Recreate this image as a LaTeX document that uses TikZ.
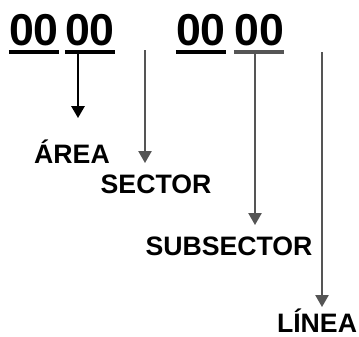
\documentclass[tikz,border=0pt]{standalone}
\usepackage{fontspec}
\setmainfont{Liberation Sans}
\usetikzlibrary{arrows.meta}
\definecolor{arrgray}{RGB}{85,85,85}

\begin{document}
\begin{tikzpicture}[x=0.75pt,y=-0.75pt,
    digits/.style={font=\fontsize{33.5}{33.5}\selectfont\bfseries,inner sep=0pt,anchor=base},
    lbl/.style={font=\fontsize{20}{20}\selectfont\bfseries,inner sep=0pt,anchor=base},
    uline/.style={line width=3pt},
    arr/.style={-{Triangle[width=10pt,length=9pt]}}]
        \useasboundingbox (0,0) rectangle (359,336);
        % the code digits
        \node[digits] (d1) at (34,45) {00};
        \node[digits] (d2) at (90,45) {00};
        \node[digits] (d3) at (201,45) {00};
        \node[digits] (d4) at (259,45) {00};
        \draw[uline] ([yshift=-5.25pt]d1.base west) -- ([yshift=-5.25pt]d1.base east);
        \draw[uline] ([yshift=-5.25pt]d2.base west) -- ([yshift=-5.25pt]d2.base east);
        \draw[uline] ([yshift=-5.25pt]d3.base west) -- ([yshift=-5.25pt]d3.base east);
        \draw[uline,arrgray] ([yshift=-5.25pt]d4.base west) -- ([yshift=-5.25pt]d4.base east);
        % labels
        \node[lbl] (area) at (72,163) {ÁREA};
        \node[lbl] (sector) at (156,193) {SECTOR};
        \node[lbl] (subsector) at (229,255) {SUBSECTOR};
        \node[lbl] (linea) at (317,332) {LÍNEA};
        % arrows
        \coordinate (s1) at (78,54);  \coordinate (t1) at (78,118);
        \coordinate (s2) at (145,50); \coordinate (t2) at (145,163);
        \coordinate (s3) at (255,54); \coordinate (t3) at (255,225);
        \coordinate (s4) at (322,52); \coordinate (t4) at (322,307);
        \draw[arr,line width=1.5pt] (s1) -- (t1);
        \draw[arr,arrgray,line width=1.1pt] (s2) -- (t2);
        \draw[arr,arrgray,line width=1.1pt] (s3) -- (t3);
        \draw[arr,arrgray,line width=1.1pt] (s4) -- (t4);
\end{tikzpicture}
\end{document}
